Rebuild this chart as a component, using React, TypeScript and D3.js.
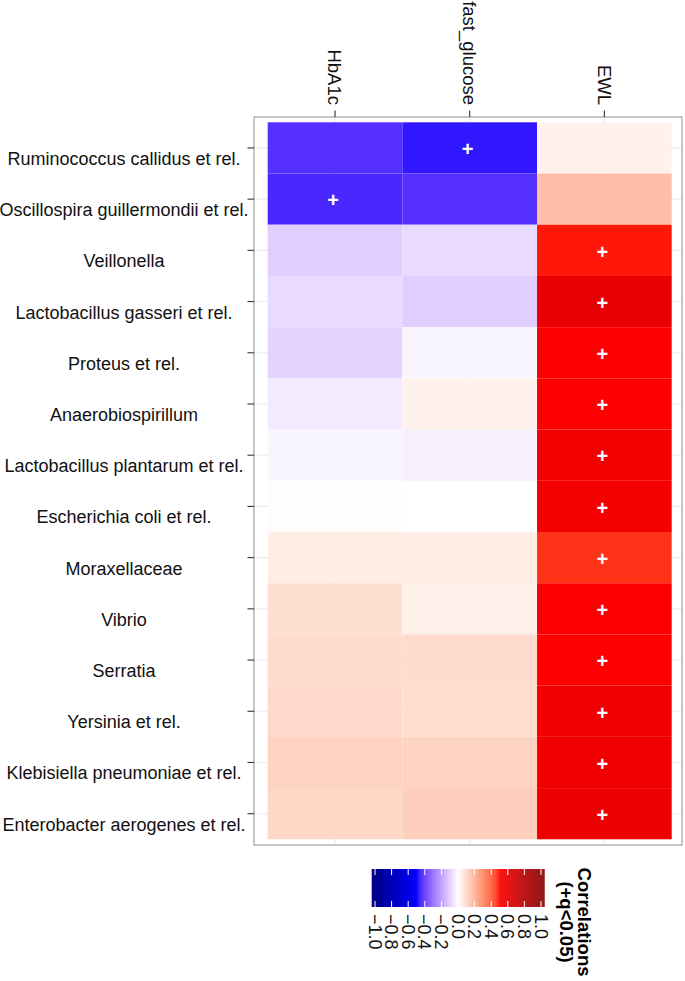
import React from "react";
import * as d3 from "d3";

const rows = [
  "Ruminococcus callidus et rel.",
  "Oscillospira guillermondii et rel.",
  "Veillonella",
  "Lactobacillus gasseri et rel.",
  "Proteus et rel.",
  "Anaerobiospirillum",
  "Lactobacillus plantarum et rel.",
  "Escherichia coli et rel.",
  "Moraxellaceae",
  "Vibrio",
  "Serratia",
  "Yersinia et rel.",
  "Klebisiella pneumoniae et rel.",
  "Enterobacter aerogenes et rel.",
];
const variables = ["HbA1c", "fast_glucose", "EWL"];

const hba1c = [-0.44, -0.454, -0.103, -0.074, -0.092, -0.044, -0.02, 0.005, 0.047, 0.086, 0.095, 0.1, 0.118, 0.107];
const fastGlucose = [-0.478, -0.44, -0.074, -0.103, -0.02, 0.035, -0.028, 0.0, 0.047, 0.04, 0.095, 0.092, 0.118, 0.127];
const ewl = [0.035, 0.171, 0.49, 0.603, 0.5, 0.5, 0.545, 0.545, 0.465, 0.52, 0.5, 0.552, 0.554, 0.57];

const sigHbA1c = [false, true, false, false, false, false, false, false, false, false, false, false, false, false];
const sigFastGlucose = [true, false, false, false, false, false, false, false, false, false, false, false, false, false];
const sigEWL = [false, false, true, true, true, true, true, true, true, true, true, true, true, true];

const legendTicks = [-1.0, -0.8, -0.6, -0.4, -0.2, 0.0, 0.2, 0.4, 0.6, 0.8, 1.0];
const colorStops = [-1, -0.5, 0, 0.5, 1];
const colorNames = ["darkblue", "blue", "white", "red", "darkred"];

const FONT = "'Liberation Sans', Arial, Helvetica, sans-serif";

export default function App() {
  const W = 685;
  const H = 981;

  const seriesValues = [hba1c, fastGlucose, ewl];
  const seriesSig = [sigHbA1c, sigFastGlucose, sigEWL];

  const cells = [] as { r: string; v: string; value: number; sig: boolean }[];
  rows.forEach((r, i) => {
    variables.forEach((v, j) => {
      cells.push({ r, v, value: seriesValues[j][i], sig: seriesSig[j][i] });
    });
  });

  const panel = { left: 254, right: 682, top: 117, bottom: 845 };
  const x = d3.scaleBand<string>().domain(variables).range([267.7, 671.7]).padding(0);
  const y = d3.scaleBand<string>().domain(rows).range([122.3, 839.3]).padding(0);

  const color = d3
    .scaleLinear<string>()
    .domain(colorStops)
    .range(colorNames)
    .interpolate(d3.interpolateLab)
    .clamp(true);

  // legend
  const lx = d3.scaleLinear().domain([-1, 1]).range([375, 541]);
  const bar = { x0: 371.7, x1: 544.3, y0: 869, y1: 907 };
  const nSlices = 173;
  const sliceW = (bar.x1 - bar.x0) / nSlices;
  const slices = d3.range(nSlices).map((k) => {
    const xs = bar.x0 + k * sliceW;
    return { xs, c: color(lx.invert(xs + sliceW / 2)) };
  });

  return (
    <svg
      width={W}
      height={H}
      style={{ position: "absolute", left: 0, top: 0, background: "white" }}
      fontFamily={FONT}
    >
      <rect x={0} y={0} width={W} height={H} fill="white" />
      <rect
        x={panel.left}
        y={panel.top}
        width={panel.right - panel.left}
        height={panel.bottom - panel.top}
        fill="white"
      />
      {rows.map((r) => {
        const cy = (y(r) as number) + y.bandwidth() / 2;
        return (
          <line key={"gy" + r} x1={panel.left} x2={panel.right} y1={cy} y2={cy} stroke="#ebebeb" strokeWidth={1.1} />
        );
      })}
      {variables.map((v) => {
        const cx = (x(v) as number) + x.bandwidth() / 2;
        return (
          <line key={"gx" + v} x1={cx} x2={cx} y1={panel.top} y2={panel.bottom} stroke="#ebebeb" strokeWidth={1.1} />
        );
      })}
      {cells.map((c) => (
        <rect
          key={c.r + c.v}
          x={x(c.v) as number}
          y={y(c.r) as number}
          width={x.bandwidth()}
          height={y.bandwidth()}
          fill={color(c.value)}
        />
      ))}
      {cells
        .filter((c) => c.sig)
        .map((c) => (
          <text
            key={"s" + c.r + c.v}
            x={(x(c.v) as number) + x.bandwidth() / 2 - 2}
            y={(y(c.r) as number) + y.bandwidth() / 2 + 1.5}
            dy="0.34em"
            textAnchor="middle"
            fontSize={20}
            fontWeight="bold"
            fill="white"
          >
            +
          </text>
        ))}
      <rect
        x={panel.left}
        y={panel.top}
        width={panel.right - panel.left}
        height={panel.bottom - panel.top}
        fill="none"
        stroke="#999999"
        strokeWidth={1.1}
      />
      {rows.map((r) => {
        const cy = (y(r) as number) + y.bandwidth() / 2;
        return (
          <g key={"yt" + r}>
            <line x1={panel.left - 6.5} x2={panel.left} y1={cy} y2={cy} stroke="#333333" strokeWidth={1.1} />
            <text x={124} y={cy + 17} textAnchor="middle" fontSize={18} fill="#111">
              {r}
            </text>
          </g>
        );
      })}
      {variables.map((v) => {
        const cx = (x(v) as number) + x.bandwidth() / 2;
        return (
          <g key={"xt" + v}>
            <line x1={cx} x2={cx} y1={panel.top - 6.5} y2={panel.top} stroke="#333333" strokeWidth={1.1} />
            <text
              transform={`translate(${cx},105) rotate(90)`}
              textAnchor="end"
              dy="0.36em"
              fontSize={18.5}
              fill="#111"
            >
              {v}
            </text>
          </g>
        );
      })}
      {slices.map((s, k) => (
        <rect key={"lg" + k} x={s.xs} y={bar.y0} width={sliceW + 0.4} height={bar.y1 - bar.y0} fill={s.c} />
      ))}
      {legendTicks.map((t) => (
        <g key={"lt" + t}>
          <line x1={lx(t)} x2={lx(t)} y1={bar.y0} y2={bar.y0 + 6} stroke="white" strokeWidth={1} />
          <line x1={lx(t)} x2={lx(t)} y1={bar.y1 - 6} y2={bar.y1} stroke="white" strokeWidth={1} />
          <text
            transform={`translate(${lx(t)},914) rotate(90)`}
            textAnchor="start"
            dy="0.36em"
            fontSize={18}
            fill="#111"
          >
            {d3.format(".1f")(t)}
          </text>
        </g>
      ))}
      <text
        transform={`translate(578,922) rotate(90)`}
        textAnchor="middle"
        fontSize={18.5}
        fontWeight="bold"
        fill="#000"
      >
        Correlations
      </text>
      <text
        transform={`translate(560,922) rotate(90)`}
        textAnchor="middle"
        fontSize={18.5}
        fontWeight="bold"
        fill="#000"
      >
        (+q&lt;0.05)
      </text>
    </svg>
  );
}
